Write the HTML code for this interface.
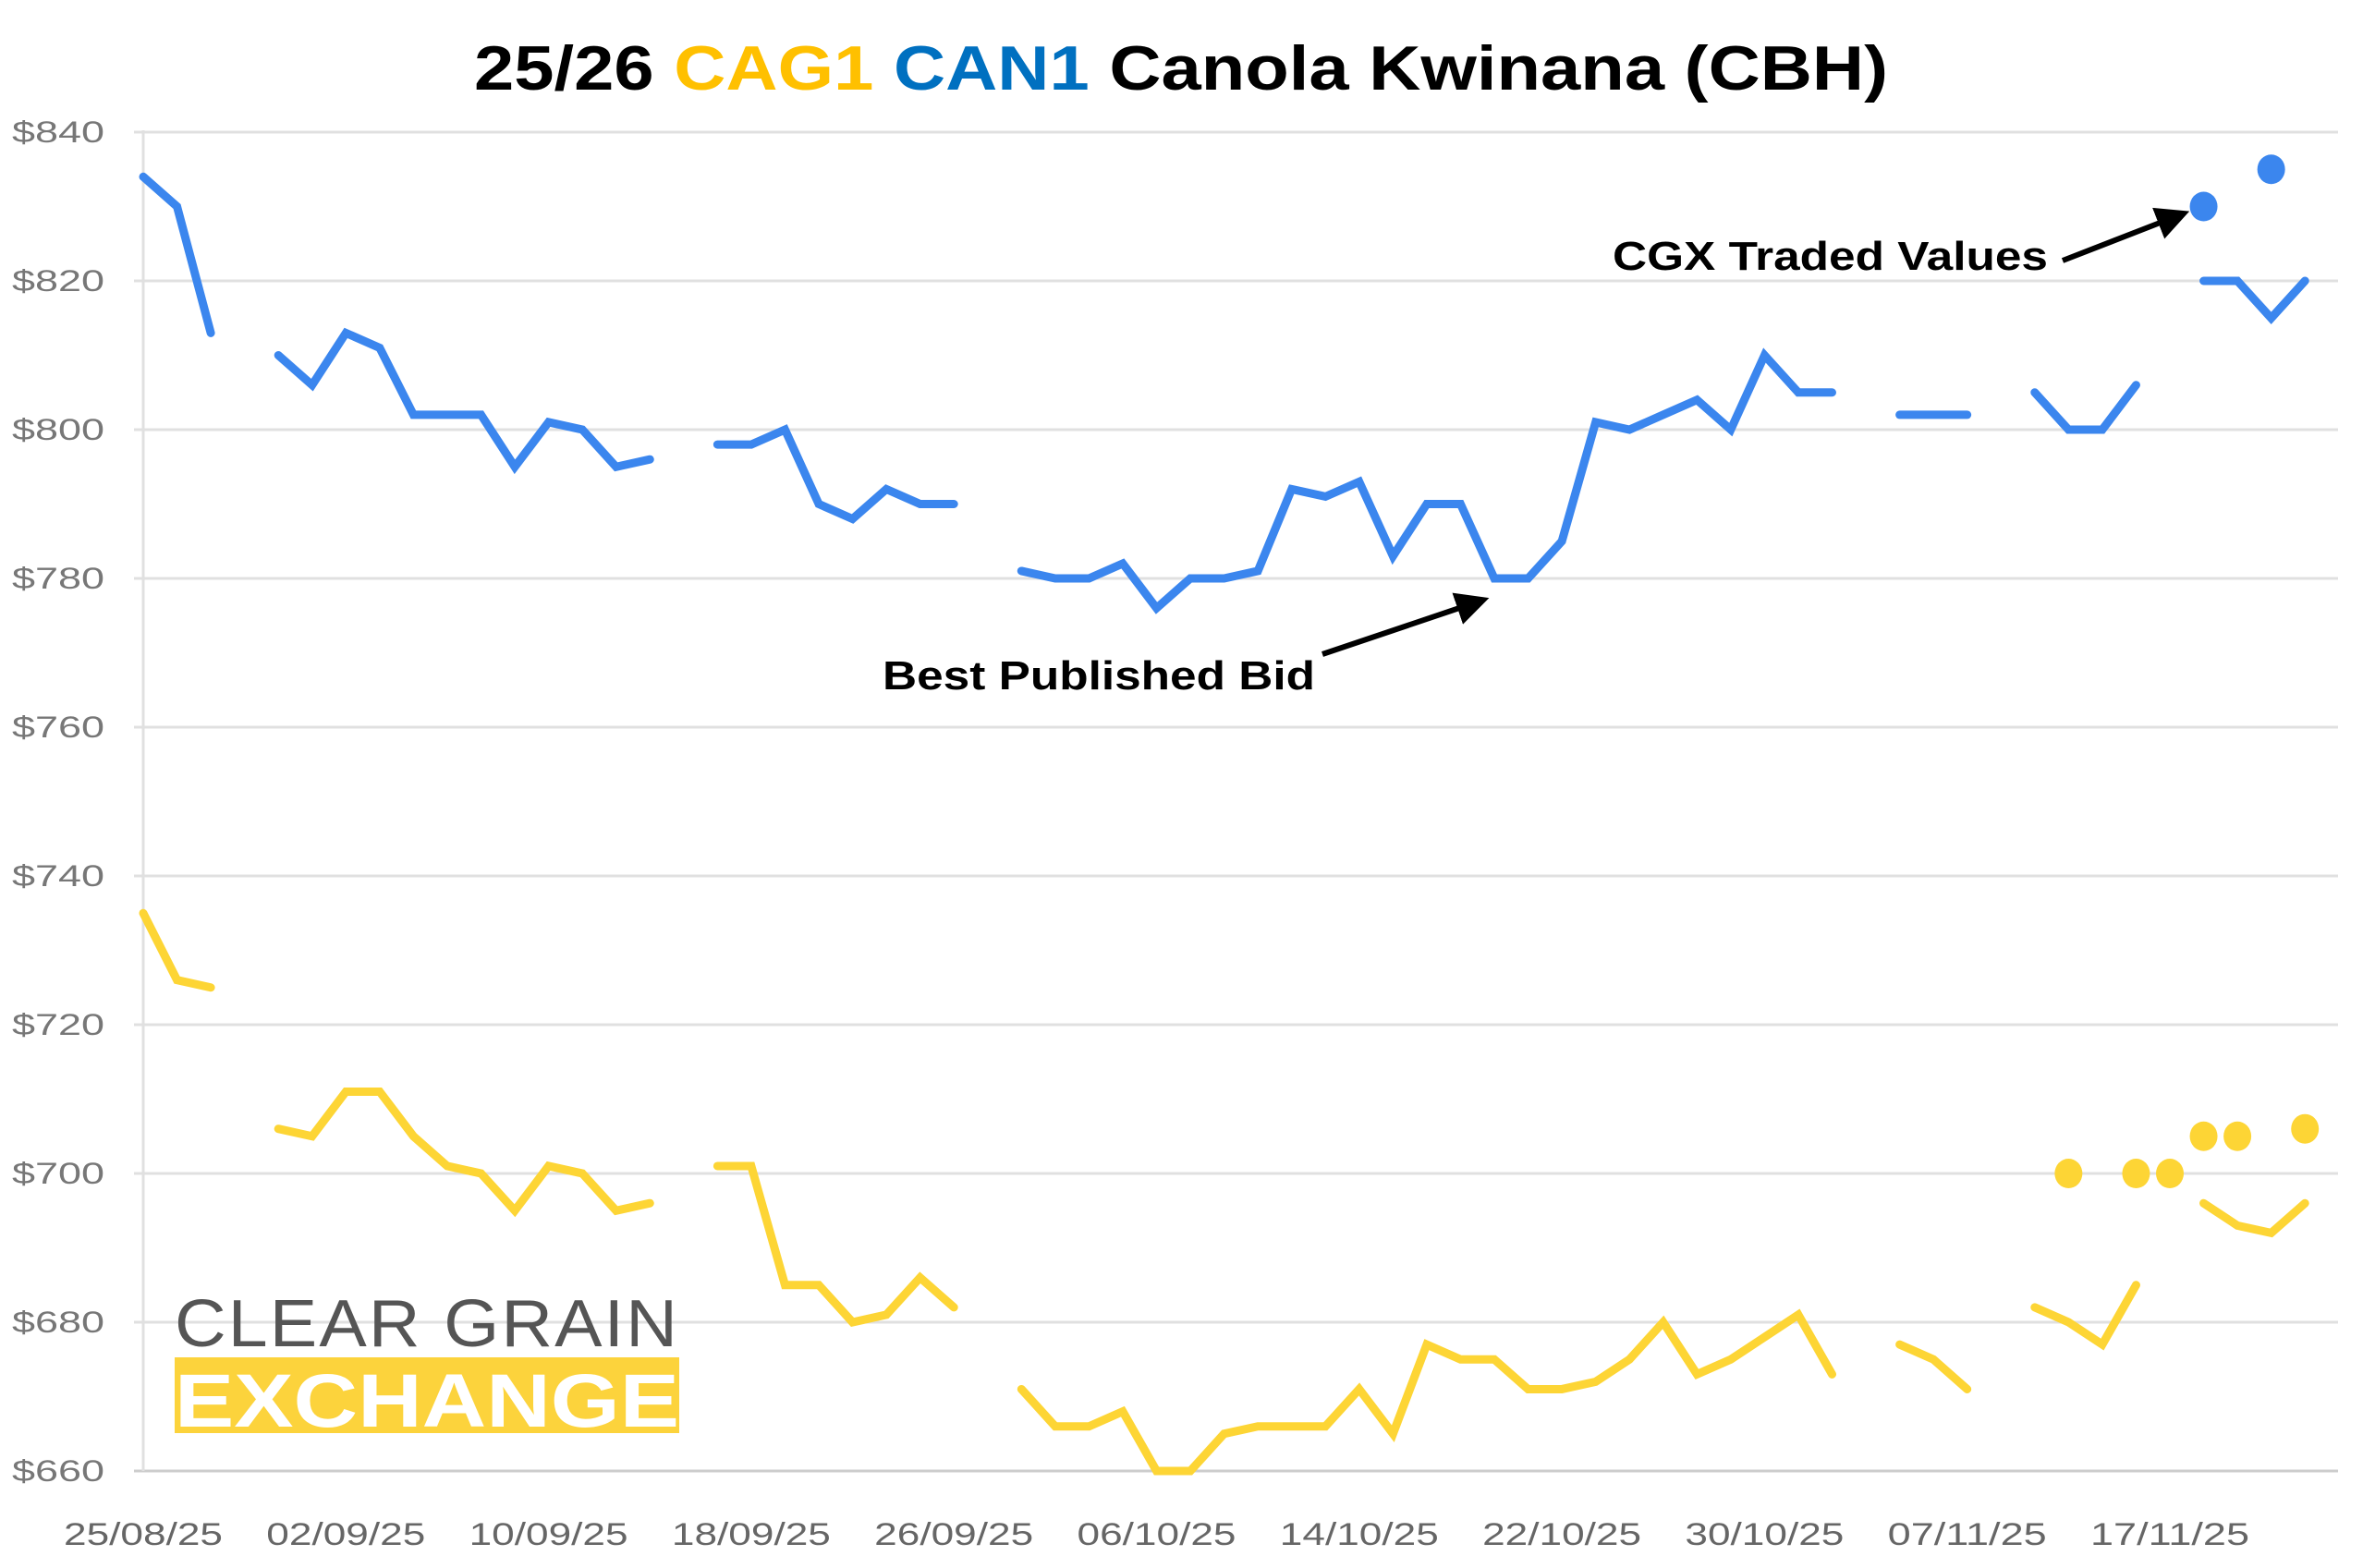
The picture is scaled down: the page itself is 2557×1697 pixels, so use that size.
<!DOCTYPE html>
<html><head><meta charset="utf-8"><style>
html,body{margin:0;padding:0;background:#fff;}
svg{display:block;font-family:"Liberation Sans",sans-serif;}
</style></head><body>
<svg id="chart" width="2557" height="1697" viewBox="0 0 2557 1697" xmlns="http://www.w3.org/2000/svg">
<defs><marker id="ah" markerWidth="6" markerHeight="6" refX="4" refY="3" orient="auto"><path d="M0,0 L6,3 L0,6 z" fill="#000"/></marker></defs>
<text x="1278" y="97" text-anchor="middle" font-size="68" font-weight="bold" textLength="1530" lengthAdjust="spacingAndGlyphs"><tspan fill="#000">25/26 </tspan><tspan fill="#FFC000">CAG1 </tspan><tspan fill="#0070C0">CAN1 </tspan><tspan fill="#000">Canola Kwinana (CBH)</tspan></text>
<g id="grid"></g>
<g id="xlabels"></g>
<g id="ylabels"></g>
<g id="logo">
<text x="189" y="1457" font-size="72" fill="#555" textLength="546" lengthAdjust="spacingAndGlyphs" letter-spacing="2">CLEAR GRAIN</text>
<rect x="189" y="1469" width="546" height="82" fill="#FCD33C"/>
<text x="189" y="1544" font-size="82" font-weight="bold" fill="#fff" textLength="546" lengthAdjust="spacingAndGlyphs">EXCHANGE</text>
</g>
<g id="series"></g>
<g>
<text x="955" y="746" font-size="44" font-weight="bold" textLength="468" lengthAdjust="spacingAndGlyphs">Best Published Bid</text>
<line x1="1431" y1="708" x2="1600" y2="651" stroke="#000" stroke-width="6" marker-end="url(#ah)"/>
</g>
<g>
<text x="1745" y="292" font-size="44" font-weight="bold" textLength="471" lengthAdjust="spacingAndGlyphs">CGX Traded Values</text>
<line x1="2232" y1="282" x2="2358" y2="233" stroke="#000" stroke-width="6" marker-end="url(#ah)"/>
</g>
</svg>
<script>
const yTicks=[660,680,700,720,740,760,780,800,820,840];
const xTickIdx=[0,6,12,18,24,30,36,42,48,54,60];
const xTickLabels=["25/08/25","02/09/25","10/09/25","18/09/25","26/09/25","06/10/25","14/10/25","22/10/25","30/10/25","07/11/25","17/11/25"];
const can1Bid=[834,830,813,null,810,806,813,811,802,802,802,795,801,800,795,796,null,798,798,800,790,788,792,790,790,null,781,780,780,782,776,780,780,781,792,791,793,783,790,790,780,780,785,801,800,802,804,800,810,805,805,null,802,802,802,null,805,800,800,806,null,820,820,815,820];
const cag1Bid=[735,726,725,null,706,705,711,711,705,701,700,695,701,700,695,696,null,701,701,685,685,680,681,686,682,null,671,666,666,668,660,660,665,666,666,666,671,665,677,675,675,671,671,672,675,680,673,675,678,681,673,null,677,675,671,null,682,680,677,685,null,696,693,692,696];
const can1TradeIdx=[61,63];
const can1TradeVal=[830,835];
const cag1TradeIdx=[57,59,60,61,62,64];
const cag1TradeVal=[700,700,700,705,705,706];

const NS="http://www.w3.org/2000/svg";
const X0=155,DX=36.55,Y0=143,YMAX=840,PPU=8.05,XR=2530;
const xs=i=>X0+DX*i, ys=v=>Y0+(YMAX-v)*PPU;
function mk(tag,attrs,parent){const e=document.createElementNS(NS,tag);for(const k in attrs)e.setAttribute(k,attrs[k]);parent.appendChild(e);return e;}
const grid=document.getElementById('grid'),yl=document.getElementById('ylabels'),xl=document.getElementById('xlabels'),ser=document.getElementById('series');
yTicks.forEach(v=>{
 const l=mk('line',{x1:X0-10,x2:XR,y1:ys(v),y2:ys(v),stroke:v===660?'#ccc':'#e0e0e0','stroke-width':3},grid);
 
 
 const t=mk('text',{x:13,y:ys(v)+11,'font-size':32,fill:'#777',textLength:100,lengthAdjust:'spacingAndGlyphs'},yl);
 t.textContent='$'+v;
 
 
});
const ax=mk('line',{x1:X0,x2:X0,y1:Y0-2,y2:ys(660),stroke:'#e0e0e0','stroke-width':3},grid);


xTickIdx.forEach((i,k)=>{
 const t=mk('text',{x:xs(i),y:1672,'font-size':34,fill:'#666','text-anchor':'middle',textLength:172,lengthAdjust:'spacingAndGlyphs'},xl);
 t.textContent=xTickLabels[k];
 
 
});
function drawLine(vals,color,name){
 let segs=[],cur=[];
 vals.forEach((v,i)=>{if(v==null){if(cur.length)segs.push(cur);cur=[];}else cur.push([xs(i),ys(v)]);});
 if(cur.length)segs.push(cur);
 segs.forEach(s=>{
  const p=mk('polyline',{points:s.map(q=>q.join(',')).join(' '),fill:'none',stroke:color,'stroke-width':9,'stroke-linejoin':'miter','stroke-linecap':'round'},ser);
  
  
 });
}
function drawDots(idx,vals,color,name){
 idx.forEach((i,k)=>{
  const c=mk('ellipse',{cx:xs(i),cy:ys(vals[k]),rx:15,ry:16,fill:color},ser);
  
  
 });
}
drawLine(cag1Bid,'#FDD535','cag1-bid-line');
drawLine(can1Bid,'#3B86EE','can1-bid-line');
drawDots(cag1TradeIdx,cag1TradeVal,'#FDD535','cag1-traded-point');
drawDots(can1TradeIdx,can1TradeVal,'#3B86EE','can1-traded-point');
</script>
</body></html>
